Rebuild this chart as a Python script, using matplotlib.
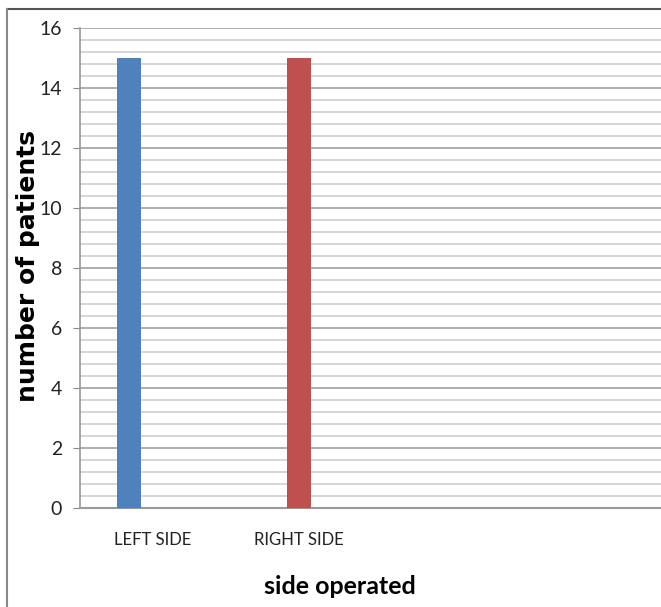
import numpy as np
import matplotlib.pyplot as plt
from matplotlib.lines import Line2D
from matplotlib.ticker import MultipleLocator

plt.rcParams['font.family'] = ['Liberation Sans Narrow', 'Lato', 'DejaVu Sans']

# datos
categories = ["LEFT SIDE", "RIGHT SIDE", "", ""]
left_side = [15, 0, 0, 0]
right_side = [0, 15, 0, 0]
empty_series = [0, 0, 0, 0]

series = [left_side, right_side, empty_series]
colors = ["#4F81BD", "#C0504D", "#9BBB59"]

fig = plt.figure(figsize=(6.61, 6.07), dpi=100)
ax = fig.add_axes([80 / 661, 1 - 508 / 607, 1 - 80 / 661, 480 / 607])

x = np.arange(len(categories))
w = 24 / 146
for i, (vals, c) in enumerate(zip(series, colors)):
    vals = np.array(vals, dtype=float)
    mask = vals > 0
    ax.bar(x[mask] + (i - 1) * w, vals[mask], width=w, color=c, zorder=3)

ax.set_xlim(-0.5, -0.5 + 581 / 146)
ax.set_ylim(0, 16)
ax.yaxis.set_major_locator(MultipleLocator(2))
ax.yaxis.set_minor_locator(MultipleLocator(0.4))
ax.grid(which='major', axis='y', color='#A0A0A0', linewidth=1.2, zorder=0)
ax.grid(which='minor', axis='y', color='#CFCFCF', linewidth=1.2, zorder=0)
ax.set_axisbelow(True)

ax.set_xticks(x)
ax.set_xticklabels(categories, fontsize=12, color='#222222')
ax.tick_params(axis='x', length=0, pad=17)
ax.tick_params(axis='y', which='major', length=5, color='#888888', labelsize=14,
               labelcolor='#222222', pad=8)
ax.tick_params(axis='y', which='minor', length=0)

for s in ['top', 'right']:
    ax.spines[s].set_visible(False)
ax.spines['left'].set_color('#999999')
ax.spines['bottom'].set_color('#999999')
ax.spines['left'].set_linewidth(1.2)
ax.spines['bottom'].set_linewidth(1.5)

# títulos de los ejes
fig.text(340 / 661, 1 - 586 / 607, "side operated", fontsize=18, fontweight='bold',
         ha='center', va='center')
fig.text(28 / 661, 1 - 266 / 607, "number of patients", fontsize=18, fontweight='bold',
         family='DejaVu Sans', rotation=90, ha='center', va='center')

# borde del gráfico
fig.add_artist(Line2D([7 / 661, 1], [1 - 9 / 607, 1 - 9 / 607], color='#555555', linewidth=1.5))
fig.add_artist(Line2D([7 / 661, 7 / 661], [0, 1 - 9 / 607], color='#888888', linewidth=1.5))

plt.savefig("out.png", dpi=100)
